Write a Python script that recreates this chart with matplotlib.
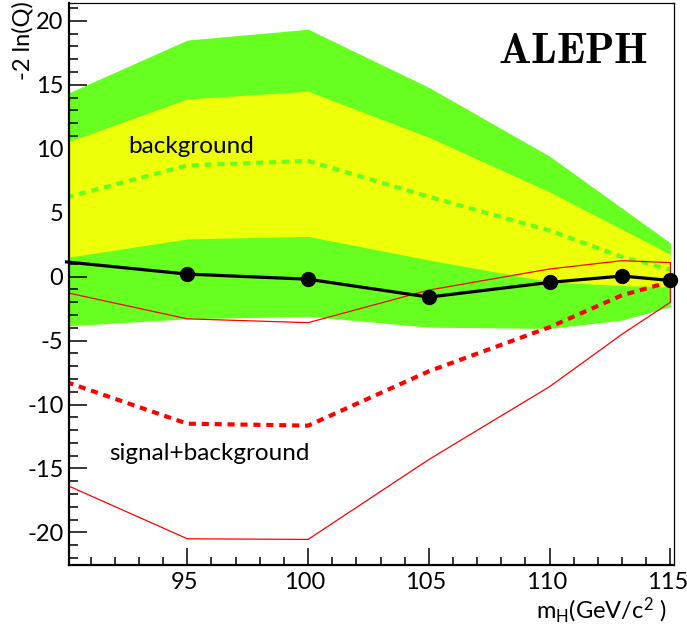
import matplotlib
matplotlib.use("Agg")
import matplotlib.pyplot as plt
import matplotlib.transforms as mtransforms
from matplotlib.ticker import MultipleLocator
import numpy as np

# masses (GeV/c^2)
mh = [90, 95, 100, 105, 110, 113, 115]

# observed -2 ln(Q)
observed = [1.15, 0.2, -0.2, -1.6, -0.45, 0.05, -0.3]

# background expectation: median and 1/2 sigma bands
bkg_median = [6.2, 8.7, 9.05, 6.25, 3.6, 1.55, 0.55]
bkg_1s_up = [10.5, 13.9, 14.5, 10.9, 6.63, 3.7, 1.75]
bkg_1s_dn = [1.5, 2.95, 3.15, 1.3, -0.4, -0.7, -0.8]
bkg_2s_up = [14.3, 18.5, 19.35, 14.8, 9.42, 5.35, 2.64]
bkg_2s_dn = [-3.85, -3.3, -3.1, -3.95, -4.05, -3.4, -2.35]

# signal+background expectation
sb_median = [-8.25, -11.5, -11.65, -7.4, -3.95, -1.45, -0.4]
sb_up = [-1.25, -3.3, -3.6, -1.05, 0.6, 1.25, 1.1]
sb_dn = [-16.3, -20.5, -20.55, -14.3, -8.6, -4.5, -2.0]

plt.rcParams['font.family'] = ['Lato', 'DejaVu Sans']
plt.rcParams['mathtext.fontset'] = 'custom'
plt.rcParams['mathtext.rm'] = 'Lato'
plt.rcParams['mathtext.default'] = 'regular'

fig = plt.figure(figsize=(6.87, 6.27), dpi=100)
ax = fig.add_axes([69/687, 1-565/627, 605/687, 562/627])

green = '#66ff1f'
yellow = '#eeff0a'

ax.fill_between(mh, bkg_2s_dn, bkg_2s_up, color=green, lw=0, zorder=1)
ax.fill_between(mh, bkg_1s_dn, bkg_1s_up, color=yellow, lw=0, zorder=2)
ax.plot(mh, bkg_median, color=green, lw=3, ls=(0, (1.7, 1.4)), zorder=3)

# s+b band outline (closed)
xs = mh + mh[::-1] + [mh[0]]
ys = sb_up + sb_dn[::-1] + [sb_up[0]]
ax.plot(xs, ys, color='red', lw=0.9, zorder=4)
ax.plot(mh, sb_median, color='red', lw=3, ls=(0, (1.7, 1.4)), zorder=4)

ax.plot(mh, observed, color='black', lw=2.3, marker='o', ms=10,
        markevery=list(range(1, len(mh))), zorder=6, clip_on=False)

ax.set_xlim(90.1, 115.15)
ax.set_ylim(-22.55, 21.4)

ax.xaxis.set_major_locator(MultipleLocator(5))
ax.xaxis.set_minor_locator(MultipleLocator(1))
ax.yaxis.set_major_locator(MultipleLocator(5))
ax.yaxis.set_minor_locator(MultipleLocator(1))
ax.tick_params(which='both', direction='in', top=False, right=False,
               labelsize=17, width=1.1)
ax.tick_params(axis='y', which='major', length=13, pad=4)
ax.tick_params(axis='y', which='minor', length=6.5)
ax.tick_params(axis='x', which='major', length=12, pad=5)
ax.tick_params(axis='x', which='minor', length=6)
ax.set_xticks([95, 100, 105, 110, 115])
ax.set_yticks([-20, -15, -10, -5, 0, 5, 10, 15, 20])
ax.set_yticklabels(['-20', '-15', '-10', '-5', '0', '5', '10', '15', '20'])

# nudge x tick labels slightly left
shift = mtransforms.ScaledTranslation(-3/100, 0, fig.dpi_scale_trans)
for lab in ax.get_xticklabels():
    lab.set_transform(lab.get_transform() + shift)

ax.spines['left'].set_linewidth(1.6)
ax.spines['bottom'].set_linewidth(1.6)
ax.spines['top'].set_linewidth(0.9)
ax.spines['right'].set_linewidth(0.9)
for s in ax.spines.values():
    s.set_zorder(10)

ax.text(92.55, 10.2, 'background', fontsize=17.5, ha='left', va='center', zorder=7)
ax.text(91.76, -13.8, 'signal+background', fontsize=17.5, ha='left', va='center', zorder=7)
ax.text(0.957, 0.948, r'$\mathbf{ALEPH}$', transform=ax.transAxes, fontsize=31,
        ha='right', va='top', math_fontfamily='cm', zorder=7)

fig.text(22.5/687, 1-1/627, '-2 ln(Q)', rotation=90, fontsize=17, ha='center', va='top')
fig.text(667/687, 1-610/627, r'm$_{H}$(GeV/c$^{2}$ )', fontsize=17, ha='right', va='center')

fig.savefig('out.png', dpi=100)
